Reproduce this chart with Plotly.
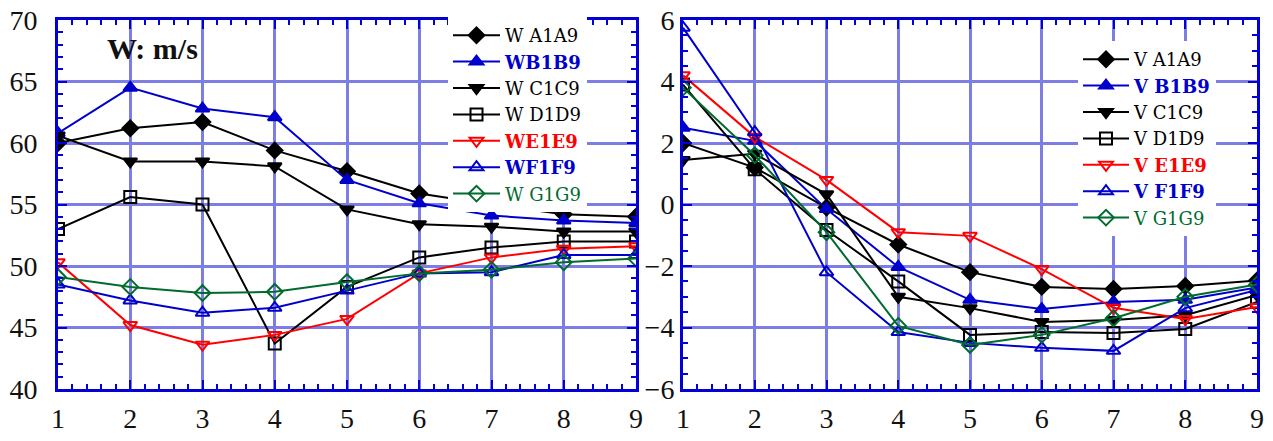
import plotly.graph_objects as go

x = [1, 2, 3, 4, 5, 6, 7, 8, 9]

# Left panel: W (m/s)
WA = [60.0, 61.2, 61.7, 59.4, 57.7, 55.9, 55.0, 54.2, 54.0]
WB = [60.8, 64.5, 62.8, 62.1, 57.0, 55.1, 54.1, 53.7, 53.5]
WC = [60.6, 58.5, 58.5, 58.1, 54.6, 53.4, 53.2, 52.8, 52.8]
WD = [53.0, 55.6, 55.0, 43.7, 48.3, 50.7, 51.5, 52.0, 52.0]
WE = [50.3, 45.2, 43.6, 44.4, 45.7, 49.4, 50.7, 51.4, 51.6]
WF = [48.5, 47.2, 46.2, 46.6, 48.0, 49.4, 49.5, 50.9, 50.9]
WG = [49.1, 48.3, 47.8, 47.9, 48.7, 49.4, 49.7, 50.3, 50.6]

# Right panel: V
VA = [2.0, 1.2, -0.1, -1.3, -2.2, -2.68, -2.75, -2.65, -2.47]
VB = [2.5, 2.07, -0.15, -2.03, -3.1, -3.4, -3.17, -3.1, -2.7]
VC = [1.45, 1.65, 0.33, -3.0, -3.37, -3.82, -3.76, -3.6, -2.94]
VD = [3.9, 1.15, -0.83, -2.5, -4.24, -4.15, -4.18, -4.05, -3.17]
VE = [4.2, 2.2, 0.8, -0.9, -1.02, -2.1, -3.36, -3.72, -3.33]
VF = [5.75, 2.35, -2.2, -4.15, -4.5, -4.66, -4.76, -3.37, -2.78]
VG = [3.8, 1.6, -0.9, -3.95, -4.57, -4.24, -3.7, -3.0, -2.6]

left_names = ["W A1A9", "WB1B9", "W C1C9", "W D1D9", "WE1E9", "WF1F9", "W G1G9"]
right_names = ["V A1A9", "V B1B9", "V C1C9", "V D1D9", "V E1E9", "V F1F9", "V G1G9"]

BLACK = "#000000"
BLUE = "#0000cc"
RED = "#ff0000"
GREEN = "#006b2e"
colors = [BLACK, BLUE, BLACK, BLACK, RED, BLUE, GREEN]
symbols = ["diamond", "triangle-up", "triangle-down", "square-open",
           "triangle-down-open", "triangle-up-open", "diamond-open"]
bold = [False, True, False, False, True, True, False]

left_series = [WA, WB, WC, WD, WE, WF, WG]
right_series = [VA, VB, VC, VD, VE, VF, VG]

fig = go.Figure()

def label(name, c, b):
    t = name if not b else "<b>" + name + "</b>"
    return "<span style='color:%s'>%s</span>" % (c, t)

for ys, nm, c, s, b in zip(left_series, left_names, colors, symbols, bold):
    fig.add_trace(go.Scatter(
        x=x, y=ys, name=label(nm, c, b), mode="lines+markers",
        line=dict(color=c, width=2),
        marker=dict(symbol=s, size=12, color=c, line=dict(color=c, width=2)),
        xaxis="x", yaxis="y", legend="legend"))

for ys, nm, c, s, b in zip(right_series, right_names, colors, symbols, bold):
    fig.add_trace(go.Scatter(
        x=x, y=ys, name=label(nm, c, b), mode="lines+markers",
        line=dict(color=c, width=2),
        marker=dict(symbol=s, size=12, color=c, line=dict(color=c, width=2)),
        xaxis="x2", yaxis="y2", legend="legend2"))

W, H = 1273, 441
ydom = [(H - 389) / H, (H - 20) / H]
GRID = "rgb(125,125,230)"
AX = "rgb(0,0,215)"
tickfont = dict(family="Liberation Serif", size=28, color="#111111")

def xaxis(dom, anchor):
    return dict(domain=dom, range=[1, 9], tickvals=x, ticktext=[str(v) for v in x],
                showgrid=True, gridcolor=GRID, gridwidth=3,
                showline=True, linecolor=AX, linewidth=3, mirror="ticks",
                ticks="inside", ticklen=9, tickwidth=2, tickcolor=AX,
                minor=dict(dtick=0.2, ticks="inside", ticklen=5, tickwidth=2, tickcolor=AX, showgrid=False),
                tickfont=tickfont, ticklabelstandoff=2, anchor=anchor, zeroline=False,
                automargin=False, ticklabeloverflow="allow")

def yaxis(dom, anchor, rng, dt, mdt, standoff):
    return dict(domain=dom, range=rng, dtick=dt, tick0=rng[0],
                showgrid=True, gridcolor=GRID, gridwidth=3,
                showline=True, linecolor=AX, linewidth=3, mirror="ticks",
                ticks="inside", ticklen=9, tickwidth=2, tickcolor=AX,
                minor=dict(dtick=mdt, ticks="inside", ticklen=5, tickwidth=2, tickcolor=AX, showgrid=False),
                tickfont=tickfont, ticklabelstandoff=standoff, anchor=anchor, zeroline=False,
                automargin=False, ticklabeloverflow="allow")

legfont = dict(family="DejaVu Serif", size=18, color="#000000")

fig.update_layout(
    width=W, height=H,
    margin=dict(l=0, r=0, t=0, b=0, autoexpand=False),
    paper_bgcolor="white", plot_bgcolor="white",
    xaxis=xaxis([58 / W, 636 / W], "y"),
    yaxis=yaxis(ydom, "x", [40, 70], 5, 1, 12),
    xaxis2=xaxis([683 / W, 1257 / W], "y2"),
    yaxis2=yaxis(ydom, "x2", [-6, 6], 2, 0.5, 0),
    legend=dict(x=448 / W, y=(H - 17) / H, xanchor="left", yanchor="top",
                bgcolor="white", font=legfont, tracegroupgap=0, itemwidth=47),
    legend2=dict(x=1078 / W, y=(H - 41) / H, xanchor="left", yanchor="top",
                 bgcolor="white", font=legfont, tracegroupgap=0, itemwidth=46),
    showlegend=True,
    hovermode=False,
    annotations=[dict(text="<b>W: m/s</b>", x=105 / W, y=(H - 48) / H,
                      xref="paper", yref="paper", xanchor="left", yanchor="middle",
                      showarrow=False,
                      font=dict(family="Liberation Serif", size=30, color="#111111"))],
)

fig.write_html("out.html",
               config={"displayModeBar": False},
               post_script="document.body.style.margin='0';document.body.style.overflow='hidden';")
